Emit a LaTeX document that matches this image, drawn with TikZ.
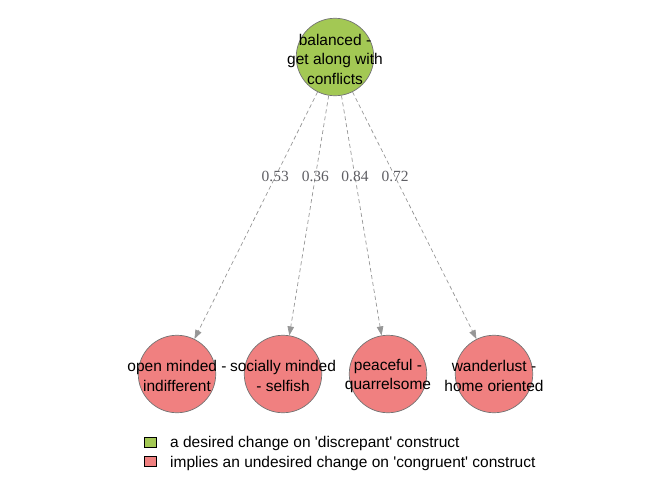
\documentclass[tikz,border=0pt]{standalone}
\usepackage{fontspec}
\setmainfont{Liberation Sans}
\newfontfamily\legfont[Ligatures=ResetAll]{Liberation Sans}
\newfontfamily\labelfont{Liberation Serif}
\usetikzlibrary{arrows.meta,calc}
\definecolor{nodegreen}{RGB}{163,200,84}
\definecolor{nodered}{RGB}{240,128,128}
\definecolor{nodeborder}{RGB}{115,115,115}
\definecolor{edgegray}{RGB}{150,150,150}
\definecolor{labelgray}{RGB}{95,95,100}
\tikzset{
  circ/.style={circle, draw=nodeborder, line width=0.7pt, minimum size=77.5pt, inner sep=0pt},
  greennode/.style={circ, fill=nodegreen},
  rednode/.style={circ, fill=nodered},
  ntext/.style={align=center, inner sep=0pt, font=\fontsize{15.5pt}{19.5pt}\selectfont, text=black},
  edge/.style={draw=edgegray, line width=0.7pt, dash pattern=on 4pt off 3pt,
    -{Triangle[length=9pt,width=6.5pt,fill=edgegray]}},
  elabel/.style={inner sep=0pt, font=\labelfont\fontsize{15.5pt}{18pt}\selectfont, text=labelgray},
  legbox/.style={draw=black, line width=0.7pt, minimum width=12pt, minimum height=10pt, inner sep=0pt},
  legtext/.style={anchor=base west, inner sep=0pt, font=\legfont\fontsize{15.5pt}{19pt}\selectfont}
}
\begin{document}
\begin{tikzpicture}[x=1pt,y=-1pt]
\useasboundingbox (0,0) rectangle (672,480);
\node[greennode] (top) at (335,57) {};
\node[rednode] (b1) at (177,374) {};
\node[rednode] (b2) at (283,374) {};
\node[rednode] (b3) at (388,374) {};
\node[rednode] (b4) at (494,374) {};
\draw[edge] (top) -- (b1);
\draw[edge] (top) -- (b2);
\draw[edge] (top) -- (b3);
\draw[edge] (top) -- (b4);
\node[elabel] (l1) at ($(top)!0.378!(b1)$) {0.53};
\node[elabel] (l2) at ($(top)!0.378!(b2)$) {0.36};
\node[elabel] (l3) at ($(top)!0.378!(b3)$) {0.84};
\node[elabel] (l4) at ($(top)!0.378!(b4)$) {0.72};
\node[ntext] (t0) at ($(top)+(0,2)$) {balanced -\\get along with\\conflicts};
\node[ntext] (t1) at ($(b1)+(0,2)$) {open minded -\\indifferent};
\node[ntext] (t2) at ($(b2)+(0,2)$) {socially minded\\- selfish};
\node[ntext] (t3) at ($(b3)+(0,2)$) {peaceful -\\quarrelsome};
\node[ntext] (t4) at ($(b4)+(0,2)$) {wanderlust -\\home oriented};
\node[legbox, fill=nodegreen] (k1) at (150.5,442) {};
\node[legbox, fill=nodered] (k2) at (150.5,461.5) {};
\node[legtext] (k1t) at (170,447.5) {a desired change on 'discrepant' construct};
\node[legtext] (k2t) at (170,467) {implies an undesired change on 'congruent' construct};
\end{tikzpicture}
\end{document}
